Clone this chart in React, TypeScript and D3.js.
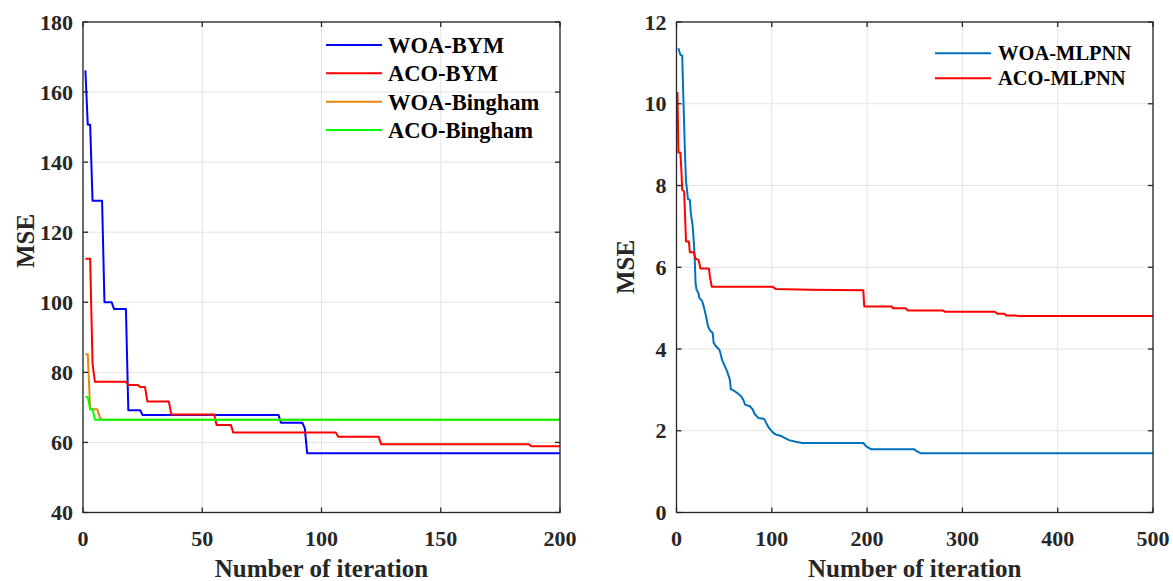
import React from 'react';
import * as d3 from 'd3';

// ---------- tick labels ----------
const leftXTicks = [0, 50, 100, 150, 200];
const leftYTicks = [40, 60, 80, 100, 120, 140, 160, 180];
const rightXTicks = [0, 100, 200, 300, 400, 500];
const rightYTicks = [0, 2, 4, 6, 8, 10, 12];

// ---------- left panel series: [iteration, MSE] ----------
const woaBym: [number, number][] = [
  [1, 166.2], [2, 150.7], [3, 150.7], [4, 129], [8, 129], [9, 100], [12, 100], [13, 98.1],
  [18, 98.1], [19, 69.2], [24, 69.2], [25, 67.8], [82, 67.8], [83, 65.6], [92, 65.6],
  [93, 64.0], [94, 56.9], [200, 56.9],
];
const acoBym: [number, number][] = [
  [1, 112.4], [3, 112.4], [4, 82.4], [5, 77.3], [18, 77.3], [19, 76.4], [23, 76.4], [24, 75.8],
  [26, 75.8], [27, 71.7], [36, 71.7], [37, 68.0], [55, 68.0], [56, 65.0], [62, 65.0],
  [63, 62.8], [106, 62.8], [107, 61.6], [124, 61.6], [125, 59.5], [187, 59.5], [188, 58.9],
  [200, 58.9],
];
const woaBingham: [number, number][] = [
  [1, 85.2], [2, 85.2], [3, 69.5], [6, 69.5], [7, 67.2], [8, 66.5], [200, 66.5],
];
const acoBingham: [number, number][] = [
  [1, 73.0], [2, 73.0], [3, 69.5], [4, 69.5], [5, 66.5], [200, 66.5],
];

// ---------- right panel series ----------
const woaMlpnn: [number, number][] = [
  [2, 11.36], [3, 11.28], [4, 11.2], [6, 11.17], [7, 10.3], [8, 9.5], [9, 8.7], [10, 8.1],
  [11, 7.9], [12, 7.67], [14, 7.65], [15, 7.33], [17, 7.0], [18, 6.67], [19, 6.3], [20, 5.62],
  [21, 5.45], [23, 5.37], [24, 5.25], [27, 5.17], [29, 5.0], [31, 4.8], [33, 4.56], [35, 4.46],
  [38, 4.39], [39, 4.15], [41, 4.08], [45, 3.98], [46, 3.9], [48, 3.72], [50, 3.62], [53, 3.46],
  [56, 3.25], [57, 3.02], [61, 2.97], [65, 2.9], [68, 2.84], [70, 2.76], [72, 2.64], [77, 2.6],
  [80, 2.52], [82, 2.41], [86, 2.31], [92, 2.29], [95, 2.15], [97, 2.07], [101, 1.96],
  [104, 1.91], [110, 1.87], [113, 1.83], [118, 1.77], [125, 1.73], [132, 1.70], [196, 1.70],
  [199, 1.62], [204, 1.55], [249, 1.55], [252, 1.5], [256, 1.45], [500, 1.45],
];
const acoMlpnn: [number, number][] = [
  [1, 10.29], [2, 8.81], [4, 8.81], [5, 8.43], [6, 7.9], [8, 7.85], [10, 6.63], [13, 6.63],
  [14, 6.37], [18, 6.37], [20, 6.21], [23, 6.18], [24, 6.1], [25, 5.97], [34, 5.97], [35, 5.78],
  [37, 5.52], [101, 5.52], [104, 5.47], [140, 5.45], [196, 5.44], [197, 5.04], [226, 5.04],
  [227, 5.0], [240, 5.0], [243, 4.94], [280, 4.94], [282, 4.91], [334, 4.91], [337, 4.86],
  [344, 4.86], [346, 4.82], [356, 4.82], [358, 4.81], [500, 4.81],
];

const leftNames = ['WOA-BYM', 'ACO-BYM', 'WOA-Bingham', 'ACO-Bingham'];
const leftColors = ['#0000ff', '#ff0000', '#e8870a', '#00ff00'];
const rightNames = ['WOA-MLPNN', 'ACO-MLPNN'];
const rightColors = ['#0072bd', '#ff0000'];

const FONT = '"Liberation Serif", "Times New Roman", serif';
const AX = '#262626';
const GRID = '#e3e3e3';

interface PanelProps {
  id: string;
  left: number; right: number; top: number; bottom: number;
  xDomain: [number, number]; yDomain: [number, number];
  xTicks: number[]; yTicks: number[];
  series: [number, number][][];
  colors: string[];
  names: string[];
  legend: { x1: number; x2: number; tx: number; rows: number[]; fs: number };
  ylabelX: number;
  ylabelY: number;
}

function Panel(p: PanelProps) {
  const x = d3.scaleLinear().domain(p.xDomain).range([p.left, p.right]);
  const y = d3.scaleLinear().domain(p.yDomain).range([p.bottom, p.top]);
  const line = d3.line<[number, number]>().x(d => x(d[0])).y(d => y(d[1]));
  const tl = 5;
  return (
    <g>
      <defs>
        <clipPath id={p.id}>
          <rect x={p.left} y={p.top} width={p.right - p.left} height={p.bottom - p.top} />
        </clipPath>
      </defs>
      {/* grid */}
      {p.xTicks.map(t => (
        <line key={'gx' + t} x1={x(t)} x2={x(t)} y1={p.top} y2={p.bottom} stroke={GRID} strokeWidth={1} />
      ))}
      {p.yTicks.map(t => (
        <line key={'gy' + t} x1={p.left} x2={p.right} y1={y(t)} y2={y(t)} stroke={GRID} strokeWidth={1} />
      ))}
      {/* series */}
      <g clipPath={`url(#${p.id})`}>
        {p.series.map((s, i) => (
          <path key={'s' + i} d={line(s) || ''} fill="none" stroke={p.colors[i]} strokeWidth={2} strokeLinejoin="round" />
        ))}
      </g>
      {/* box */}
      <rect x={p.left} y={p.top} width={p.right - p.left} height={p.bottom - p.top} fill="none" stroke={AX} strokeWidth={1.3} />
      {/* ticks */}
      {p.xTicks.map(t => (
        <g key={'tx' + t}>
          <line x1={x(t)} x2={x(t)} y1={p.bottom} y2={p.bottom - tl} stroke={AX} strokeWidth={1.3} />
          <line x1={x(t)} x2={x(t)} y1={p.top} y2={p.top + tl} stroke={AX} strokeWidth={1.3} />
          <text x={x(t)} y={p.bottom + 33} textAnchor="middle" fontFamily={FONT} fontWeight="bold" fontSize={22} fill={AX}>{t}</text>
        </g>
      ))}
      {p.yTicks.map(t => (
        <g key={'ty' + t}>
          <line x1={p.left} x2={p.left + tl} y1={y(t)} y2={y(t)} stroke={AX} strokeWidth={1.3} />
          <line x1={p.right} x2={p.right - tl} y1={y(t)} y2={y(t)} stroke={AX} strokeWidth={1.3} />
          <text x={p.left - 10} y={y(t)} dy="0.35em" textAnchor="end" fontFamily={FONT} fontWeight="bold" fontSize={22} fill={AX}>{t}</text>
        </g>
      ))}
      {/* axis labels */}
      <text x={(p.left + p.right) / 2} y={577} textAnchor="middle" fontFamily={FONT} fontWeight="bold" fontSize={25} fill={AX}>Number of iteration</text>
      <text transform={`translate(${p.ylabelX},${p.ylabelY}) rotate(-90)`} textAnchor="middle" dy="0.35em" fontFamily={FONT} fontWeight="bold" fontSize={25} fill={AX}>MSE</text>
      {/* legend */}
      {p.names.map((n, i) => (
        <g key={'lg' + i}>
          <line x1={p.legend.x1} x2={p.legend.x2} y1={p.legend.rows[i]} y2={p.legend.rows[i]} stroke={p.colors[i]} strokeWidth={2} />
          <text x={p.legend.tx} y={p.legend.rows[i]} dy="0.35em" fontFamily={FONT} fontWeight="bold" fontSize={p.legend.fs} fill="#000">{n}</text>
        </g>
      ))}
    </g>
  );
}

export default function App() {
  return (
    <svg width={1173} height={581} style={{ position: 'absolute', left: 0, top: 0, background: '#fff' }}>
      <rect width={1173} height={581} fill="#fff" />
      <Panel
        id="clipL"
        left={83} right={560} top={22} bottom={512.5}
        xDomain={[0, 200]} yDomain={[40, 180]}
        xTicks={leftXTicks} yTicks={leftYTicks}
        series={[woaBym, acoBym, woaBingham, acoBingham]}
        colors={leftColors} names={leftNames}
        legend={{ x1: 326, x2: 382, tx: 388, rows: [45, 73.3, 101.7, 130], fs: 22.5 }}
        ylabelX={25}
        ylabelY={241}
      />
      <Panel
        id="clipR"
        left={676.5} right={1153} top={22} bottom={512.5}
        xDomain={[0, 500]} yDomain={[0, 12]}
        xTicks={rightXTicks} yTicks={rightYTicks}
        series={[woaMlpnn, acoMlpnn]}
        colors={rightColors} names={rightNames}
        legend={{ x1: 935, x2: 991, tx: 998, rows: [53.3, 78.3], fs: 20.5 }}
        ylabelX={625}
        ylabelY={267}
      />
    </svg>
  );
}
